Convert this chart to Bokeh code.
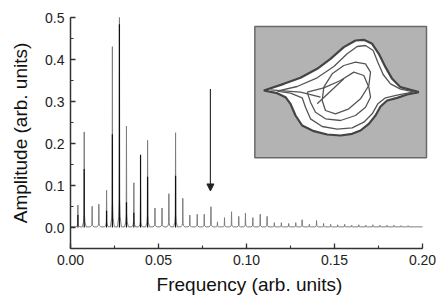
from bokeh.plotting import figure
from bokeh.models import (Range1d, SingleIntervalTicker, NumeralTickFormatter,
                          Arrow, NormalHead)
from bokeh.embed import file_html
from bokeh.resources import INLINE

# ---------------- data ----------------
gray_freq = [0.0042, 0.0078, 0.0123, 0.0161, 0.0205, 0.0238, 0.0278, 0.0318, 0.0360, 0.0398,
             0.0438, 0.0480, 0.0520, 0.0559, 0.0597, 0.0638, 0.0678, 0.0720, 0.0760, 0.0798,
             0.0835, 0.0875, 0.0915, 0.0956, 0.0994, 0.1036, 0.1078, 0.1117, 0.1158, 0.1198,
             0.1240, 0.1280, 0.1316, 0.1357, 0.1398, 0.1438, 0.1478, 0.1518, 0.1558, 0.1598,
             0.1638, 0.1678, 0.1718, 0.1758, 0.1798, 0.1838, 0.1878, 0.1918]
gray_amp = [0.052, 0.226, 0.049, 0.054, 0.087, 0.429, 0.504, 0.240, 0.105, 0.090,
            0.206, 0.045, 0.045, 0.079, 0.224, 0.068, 0.028, 0.030, 0.030, 0.048,
            0.012, 0.022, 0.036, 0.025, 0.033, 0.022, 0.030, 0.025, 0.010, 0.010,
            0.008, 0.010, 0.017, 0.006, 0.015, 0.008, 0.006, 0.005, 0.006, 0.004,
            0.005, 0.004, 0.005, 0.004, 0.004, 0.004, 0.003, 0.003]

black_freq = [0.0042, 0.0078, 0.0205, 0.0238, 0.0278, 0.0318, 0.0360, 0.0398, 0.0438, 0.0597]
black_amp = [0.030, 0.139, 0.040, 0.222, 0.484, 0.060, 0.035, 0.173, 0.121, 0.123]

arrow_freq = 0.0795
arrow_from = 0.33
arrow_to = 0.087

# inset (phase portrait) read in the inset's own pixel-like coordinates
outer_x = [70, 130, 180, 230, 270, 310, 345, 370, 395, 415, 435, 455, 480, 510, 535,
           500, 470, 440, 420, 405, 385, 360, 335, 300, 260, 220, 185, 165, 150, 135, 110]
outer_y = [270, 250, 232, 205, 175, 140, 120, 118, 130, 160, 200, 235, 260, 268, 275,
           282, 292, 300, 318, 345, 370, 390, 400, 405, 402, 392, 375, 345, 310, 290, 278]
loop2_x = [110, 170, 230, 280, 320, 350, 375, 398, 412, 428, 450, 480, 520, 470, 435, 412,
           395, 370, 335, 290, 245, 210, 195, 185, 150, 110]
loop2_y = [272, 258, 232, 198, 160, 138, 135, 150, 185, 222, 250, 266, 274, 284, 292, 310,
           340, 365, 382, 386, 378, 355, 320, 292, 278, 272]
loop3_x = [200, 250, 300, 340, 370, 385, 390, 375, 345, 300, 255, 225, 210, 200]
loop3_y = [275, 262, 240, 215, 225, 260, 290, 320, 345, 360, 355, 335, 305, 275]
oval_x = [245, 250, 275, 310, 345, 375, 390, 385, 360, 325, 285, 255, 245]
oval_y = [300, 260, 220, 195, 185, 190, 215, 255, 295, 325, 340, 330, 300]
chord1_x = [90, 180, 240]
chord1_y = [268, 275, 290]
chord2_x = [230, 310]
chord2_y = [310, 235]

# ---------------- figure ----------------
FONT = "Liberation Sans"
W, H = 436, 300
p = figure(width=W, height=H, output_backend="svg", toolbar_location=None,
           x_range=Range1d(0, 0.2 * 358 / 352), y_range=Range1d(-0.05, 0.5),
           min_border_left=70, min_border_right=8, min_border_top=17, min_border_bottom=52)
p.outline_line_color = None
p.xgrid.visible = False
p.ygrid.visible = False
p.background_fill_color = "white"

# extra coordinate system for the inset (frame spans x 70..428, y 17..248 px)
p.extra_x_ranges = {"ix": Range1d(-510, 564)}
p.extra_y_ranges = {"iy": Range1d(744, 51)}

# gray spectrum with narrow cusp-shaped peaks
offs = [-0.0011, -0.0004, -0.00015, 0.0, 0.00015, 0.0004, 0.0011]
fracs = [0.0, 0.05, 0.13, 1.0, 0.13, 0.05, 0.0]
gx, gy = [0.0], [0.002]
for f, a in zip(gray_freq, gray_amp):
    for o, fr in zip(offs, fracs):
        gx.append(f + o)
        gy.append(0.0015 + a * fr)
gx.append(0.2)
gy.append(0.0015)
p.line(gx, gy, line_color="#7d7d7d", line_width=1.0)

# black spikes
p.segment(x0=black_freq, y0=[0.0] * len(black_freq), x1=black_freq, y1=black_amp,
          line_color="#111111", line_width=1.2)

# arrow
p.add_layout(Arrow(end=NormalHead(size=7, fill_color="#222222", line_color="#222222"),
                   x_start=arrow_freq, y_start=arrow_from, x_end=arrow_freq, y_end=arrow_to,
                   line_color="#333333", line_width=1.2))

# inset
p.quad(left=43, right=558, top=78, bottom=472, fill_color="#b3b3b3", line_color="#6a6a6a",
       line_width=1.5, x_range_name="ix", y_range_name="iy")
p.patch(outer_x, outer_y, fill_color="white", line_color="#444444", line_width=2.2,
        x_range_name="ix", y_range_name="iy")
for xs, ys in [(loop2_x, loop2_y), (loop3_x, loop3_y), (oval_x, oval_y),
               (chord1_x, chord1_y), (chord2_x, chord2_y)]:
    p.line(xs, ys, line_color="#555555", line_width=1.3, x_range_name="ix", y_range_name="iy")

# axes
for ax in (p.xaxis[0], p.yaxis[0]):
    ax.axis_line_color = "#333333"
    ax.axis_line_width = 1.5
    ax.major_tick_line_color = "#333333"
    ax.minor_tick_line_color = "#333333"
    ax.major_tick_line_width = 1.3
    ax.minor_tick_line_width = 1.1
    ax.major_tick_in = 5
    ax.major_tick_out = 0
    ax.minor_tick_in = 3
    ax.minor_tick_out = 0
    ax.major_label_text_font = FONT
    ax.major_label_text_font_size = "14px"
    ax.major_label_text_color = "#222222"
    ax.major_label_standoff = 6
    ax.axis_label_text_font = FONT
    ax.axis_label_text_font_size = "19px"
    ax.axis_label_text_font_style = "normal"
    ax.axis_label_text_color = "#111111"

p.xaxis.ticker = SingleIntervalTicker(interval=0.05, num_minor_ticks=2)
p.xaxis.formatter = NumeralTickFormatter(format="0.00")
p.xaxis.bounds = (0, 0.2)
p.yaxis.ticker = SingleIntervalTicker(interval=0.1, num_minor_ticks=2)
p.yaxis.formatter = NumeralTickFormatter(format="0.0")
p.yaxis.bounds = (-0.05, 0.5)

p.yaxis.axis_label = "Amplitude (arb. units)"
p.yaxis.axis_label_standoff = 11
p.xaxis.axis_label = "Frequency (arb. units)"
p.xaxis.axis_label_standoff = 6

open("out.html", "w").write(file_html(p, INLINE))
